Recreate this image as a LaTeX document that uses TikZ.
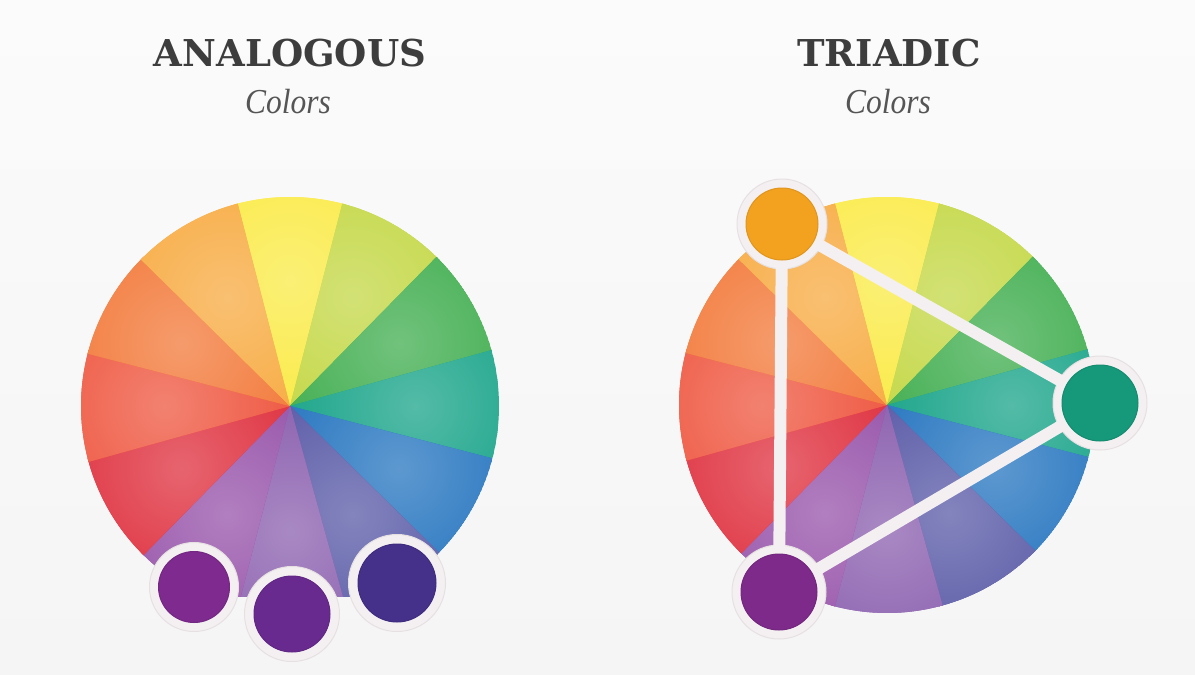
\documentclass[tikz,border=0pt]{standalone}
\usepackage{fontspec}
\newfontfamily\titlefont{DejaVu Serif}
\newfontfamily\subfont{Liberation Serif}
\usetikzlibrary{calc}
\definecolor{bgcol}{HTML}{F6F5F5}
\definecolor{bgtop}{HTML}{FBFBFB}
\definecolor{titlecol}{HTML}{3D3D3D}
\definecolor{subcol}{HTML}{555555}
\definecolor{wY}{HTML}{FAEA45}
\definecolor{wYG}{HTML}{C3D744}
\definecolor{wG}{HTML}{3FAD4E}
\definecolor{wT}{HTML}{17A388}
\definecolor{wB}{HTML}{2474BF}
\definecolor{wI}{HTML}{5859A6}
\definecolor{wV}{HTML}{8A5FAE}
\definecolor{wP}{HTML}{9652A9}
\definecolor{wR}{HTML}{DE2E3C}
\definecolor{wRO}{HTML}{EE553E}
\definecolor{wO}{HTML}{F27838}
\definecolor{wYO}{HTML}{F7AA40}
\definecolor{ringcol}{HTML}{F4F0F1}
\definecolor{ringedge}{HTML}{E6E0E2}
\definecolor{dA}{HTML}{7E2A8E}
\definecolor{dB}{HTML}{692A90}
\definecolor{dC}{HTML}{45308A}
\definecolor{dOr}{HTML}{F3A21F}
\definecolor{dTe}{HTML}{16987A}
\definecolor{dPu}{HTML}{7E2A8A}
\tikzset{
  ringnode/.style={circle, inner sep=0pt, fill=ringcol, draw=ringedge, line width=1pt},
  dotnode/.style={circle, inner sep=0pt, draw=#1!92!black, line width=1pt, fill=#1},
  link/.style={draw=ringcol, line width=12pt, shorten <=-4pt, shorten >=-4pt},
  headline/.style={text=titlecol, font=\titlefont\bfseries\fontsize{37}{40}\selectfont, anchor=base},
  subline/.style={text=subcol, font=\subfont\itshape\fontsize{35}{38}\selectfont, anchor=base}
}
\newcommand{\colorwheel}[3]{%
  \begin{scope}[shift={(#1,#2)}, y=1pt]
    \def\wr{#3}
    \foreach \a/\c in {90/wY,60/wYG,30/wG,0/wT,-30/wB,-60/wI,-90/wV,-120/wP,-150/wR,180/wRO,150/wO,120/wYO}{
      \begin{scope}
        \clip (0,0) -- (\a-15.5:\wr) arc[start angle=\a-15.5, end angle=\a+15.5, radius=\wr] -- cycle;
        \fill[\c] (0,0) circle[radius=\wr];
        \shade[inner color=\c!74!white, outer color=\c] (\a:0.6*\wr) circle[radius=0.72*\wr];
      \end{scope}
    }
  \end{scope}%
}
\begin{document}
\begin{tikzpicture}[x=1pt, y=-1pt]
\useasboundingbox (0,0) rectangle (1195,675);
\shade[top color=bgtop, bottom color=bgcol] (0,0) rectangle (1195,675);

% titles
\node[headline] (t1) at (290,66) {ANALOGOUS};
\node[subline] (s1) at (288,113) {\scalebox{0.9}[1]{Colors}};
\node[headline] (t2) at (889,66) {TRIADIC};
\node[subline] (s2) at (888,113) {\scalebox{0.9}[1]{Colors}};

% left wheel
\begin{scope}
  \clip (0,0) rectangle (1195,596);
  \colorwheel{290}{406}{209}
\end{scope}
\node[ringnode, minimum size=89pt] (r1) at (194,587) {};
\node[dotnode=dA, minimum size=71pt] (a1) at (194,587) {};
\node[ringnode, minimum size=95pt] (r2) at (292,614) {};
\node[dotnode=dB, minimum size=76pt] (a2) at (292,614) {};
\node[ringnode, minimum size=97pt] (r3) at (397,583) {};
\node[dotnode=dC, minimum size=78pt] (a3) at (397,583) {};

% right wheel
\colorwheel{887}{405}{208}
\node[ringnode, minimum size=90pt] (ro) at (782,224) {};
\node[ringnode, minimum size=94pt] (rt) at (1100,403) {};
\node[ringnode, minimum size=94pt] (rp) at (779,592) {};
\path[link] (ro) -- (rp);
\path[link] (ro) -- (rt);
\path[link] (rp) -- (rt);
\node[dotnode=dOr, minimum size=72pt] (bo) at (ro) {};
\node[dotnode=dTe, minimum size=76pt] (bt) at (rt) {};
\node[dotnode=dPu, minimum size=76pt] (bp) at (rp) {};
\end{tikzpicture}
\end{document}
